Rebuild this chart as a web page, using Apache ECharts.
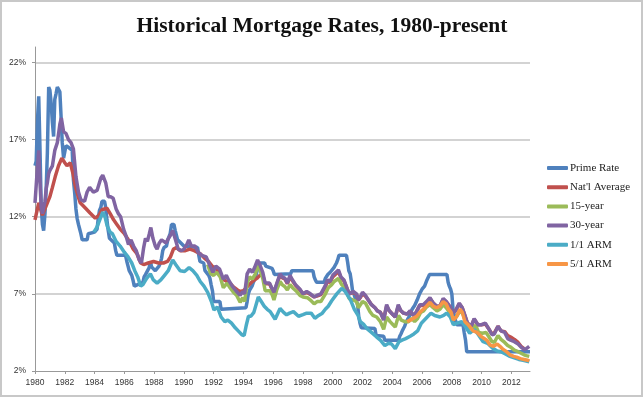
<!DOCTYPE html>
<html>
<head>
<meta charset="utf-8">
<script src="https://cdn.jsdelivr.net/npm/echarts@6/dist/echarts.min.js"></script>
<style>
html,body{margin:0;padding:0;background:#fff;}
#chart{width:644px;height:397px;}
</style>
</head>
<body>
<div id="chart"></div>
<script>
var seriesNames = ['Prime Rate', "Nat'l Average", '15-year', '30-year', '1/1 ARM', '5/1 ARM'];
var seriesColors = ['#4F81BD', '#C0504D', '#9BBB59', '#8064A2', '#4BACC6', '#F79646'];

var primeRate = [
[1980.00,15.3],[1980.08,15.6],[1980.17,18.3],[1980.25,19.8],[1980.33,16.6],[1980.42,12.6],[1980.50,11.5],[1980.58,11.1],[1980.67,12.2],[1980.75,13.8],[1980.83,16.1],[1980.92,20.4],
[1981.00,20.2],[1981.08,19.4],[1981.17,18.1],[1981.25,17.2],[1981.33,19.6],[1981.42,20.0],[1981.50,20.4],[1981.58,20.5],[1981.67,20.1],[1981.75,18.5],[1981.83,16.8],[1981.92,15.8],
[1982.00,15.8],[1982.08,16.6],[1982.25,16.5],[1982.50,16.3],[1982.58,14.4],[1982.67,13.5],[1982.75,12.5],[1982.83,11.9],[1982.92,11.5],
[1983.00,11.2],[1983.08,10.9],[1983.17,10.5],[1983.50,10.5],[1983.58,10.9],[1983.67,11.0],[1984.00,11.0],[1984.17,11.2],[1984.25,11.9],[1984.33,12.4],[1984.42,12.6],[1984.50,13.0],[1984.67,13.0],[1984.75,12.6],[1984.83,11.8],[1984.92,11.1],
[1985.00,10.6],[1985.08,10.5],[1985.33,10.3],[1985.42,9.8],[1985.50,9.5],[1986.08,9.5],[1986.17,9.1],[1986.25,8.8],[1986.33,8.5],[1986.50,8.2],[1986.58,7.9],[1986.67,7.5],
[1987.25,7.75],[1987.33,8.1],[1987.42,8.25],[1987.67,8.7],[1987.75,9.1],[1987.83,8.75],[1988.08,8.5],[1988.33,8.8],[1988.42,9.0],[1988.50,9.3],[1988.58,9.8],[1988.67,10.0],[1988.83,10.1],[1988.92,10.5],
[1989.08,10.9],[1989.17,11.5],[1989.33,11.5],[1989.42,11.1],[1989.50,11.0],[1989.58,10.5],[1990.00,10.1],[1990.08,10.0],[1990.92,10.0],
[1991.00,9.5],[1991.08,9.1],[1991.33,9.0],[1991.42,8.5],[1991.67,8.2],[1991.75,8.0],[1991.83,7.6],[1991.92,7.2],[1992.00,6.5],[1992.42,6.5],[1992.50,6.0],
[1994.17,6.1],[1994.25,6.5],[1994.33,7.0],[1994.42,7.25],[1994.58,7.5],[1994.67,7.75],[1994.83,8.15],[1994.92,8.5],[1995.08,9.0],[1995.42,9.0],[1995.50,8.8],[1995.58,8.75],[1995.92,8.65],
[1996.00,8.5],[1996.08,8.25],[1997.17,8.3],[1997.25,8.5],[1998.67,8.5],[1998.75,8.1],[1998.83,7.9],[1998.92,7.75],[1999.42,7.75],[1999.50,8.0],[1999.67,8.25],[1999.83,8.4],[1999.92,8.5],
[2000.08,8.7],[2000.17,8.8],[2000.25,9.0],[2000.33,9.2],[2000.42,9.5],[2000.92,9.5],[2001.00,9.05],[2001.08,8.5],[2001.17,8.3],[2001.25,7.8],[2001.33,7.2],[2001.42,7.0],[2001.50,6.75],[2001.58,6.6],[2001.67,6.3],[2001.75,5.5],[2001.83,5.1],[2001.92,4.8],
[2002.83,4.75],[2002.92,4.3],[2003.42,4.25],[2003.50,4.0],[2004.42,4.0],[2004.50,4.25],[2004.58,4.4],[2004.67,4.6],[2004.75,4.75],[2004.83,4.9],[2004.92,5.15],
[2005.00,5.25],[2005.17,5.6],[2005.33,6.0],[2005.50,6.25],[2005.67,6.6],[2005.83,7.0],[2006.00,7.3],[2006.17,7.5],[2006.33,7.9],[2006.50,8.25],[2007.67,8.25],[2007.75,7.75],[2007.83,7.5],[2007.92,7.3],
[2008.00,7.0],[2008.08,6.0],[2008.17,5.6],[2008.25,5.25],[2008.33,5.0],[2008.75,5.0],[2008.83,4.5],[2008.92,4.0],[2009.00,3.25],[2013.25,3.25]
];

var natlAverage = [
[1980.00,11.8],[1980.25,12.9],[1980.50,12.1],[1980.58,12.0],[1980.83,12.9],[1981.00,13.3],[1981.17,13.9],[1981.36,14.6],[1981.58,15.3],[1981.80,15.8],
[1982.00,15.5],[1982.15,15.3],[1982.37,15.5],[1982.55,14.8],[1982.70,14.0],[1982.90,13.3],[1983.04,12.9],[1983.38,12.56],[1983.70,12.24],
[1984.05,11.9],[1984.30,12.1],[1984.50,12.45],[1984.83,12.56],[1985.05,12.2],[1985.28,11.8],[1985.50,11.5],[1985.72,11.2],[1986.00,10.9],[1986.28,10.5],[1986.60,9.9],[1986.85,9.6],
[1987.10,9.0],[1987.30,8.9],[1987.60,9.0],[1987.96,9.1],[1988.30,9.0],[1988.63,9.0],[1988.90,9.1],[1989.10,9.4],[1989.30,9.9],[1989.50,10.0],[1989.75,9.8],
[1990.10,9.8],[1990.40,9.9],[1990.70,9.8],[1991.10,9.6],[1991.40,9.3],[1991.65,9.1],[1991.90,8.8],[1992.20,8.6],[1992.44,8.2],[1992.70,7.9],[1992.90,7.8],
[1993.10,7.7],[1993.33,7.45],[1993.60,7.25],[1993.78,7.15],[1994.00,7.2],[1994.30,7.5],[1994.60,7.8],[1994.90,8.0],[1995.10,8.2],
[1995.30,8.2],[1995.46,7.65],[1995.60,7.65],[1995.75,7.65],[1995.90,7.35],[1996.05,7.05],[1996.25,7.65],[1996.46,8.2],[1996.60,8.05],[1996.80,7.95],[1996.95,7.65],
[1997.13,8.1],[1997.30,7.85],[1997.50,7.55],[1997.80,7.25],[1998.00,7.0],[1998.25,7.1],[1998.50,6.95],[1998.75,6.8],[1998.93,6.85],[1999.20,6.95],[1999.48,7.4],[1999.65,7.8],[1999.82,7.75],
[2000.00,8.1],[2000.38,8.45],[2000.55,8.05],[2000.75,7.85],[2000.94,7.4],[2001.10,7.0],[2001.38,7.1],[2001.60,6.95],[2001.72,6.6],[2001.85,6.75],
[2002.00,7.0],[2002.20,6.85],[2002.39,6.6],[2002.60,6.3],[2002.84,6.1],[2003.00,5.9],[2003.20,5.8],[2003.42,5.35],[2003.62,6.2],[2003.80,5.9],
[2004.00,5.7],[2004.20,5.5],[2004.40,6.2],[2004.58,5.9],[2004.75,5.75],[2005.00,5.7],[2005.20,5.85],[2005.42,5.6],[2005.60,5.8],[2005.85,6.25],
[2006.08,6.25],[2006.30,6.45],[2006.53,6.7],[2006.75,6.4],[2006.98,6.2],[2007.20,6.2],[2007.42,6.65],[2007.62,6.5],[2007.85,6.2],
[2008.05,5.8],[2008.25,5.9],[2008.50,6.35],[2008.70,6.1],[2008.88,5.6],[2009.05,5.1],[2009.30,4.9],[2009.50,5.35],[2009.75,5.0],
[2010.00,5.0],[2010.25,5.05],[2010.50,4.7],[2010.70,4.4],[2010.85,4.45],[2011.10,4.9],[2011.30,4.6],[2011.55,4.55],[2011.75,4.3],[2011.95,4.2],
[2012.20,4.05],[2012.45,3.85],[2012.65,3.6],[2012.85,3.45]
];

var fifteenYear = [
[1991.60,8.9],[1991.80,8.3],[1992.00,8.2],[1992.20,8.4],[1992.44,8.1],[1992.65,7.4],[1992.90,7.7],[1993.10,7.4],[1993.33,7.1],[1993.55,6.9],[1993.78,6.45],[1993.95,6.75],
[1994.08,6.5],[1994.25,7.7],[1994.42,8.1],[1994.60,7.95],[1994.80,8.3],[1994.95,8.8],[1995.10,8.6],[1995.30,8.0],[1995.46,7.2],[1995.60,7.2],[1995.80,7.2],[1995.95,6.9],
[1996.05,6.6],[1996.25,7.3],[1996.46,7.8],[1996.60,7.6],[1996.80,7.45],[1996.95,7.25],[1997.13,7.6],[1997.30,7.4],[1997.58,7.15],[1997.80,6.9],
[1998.00,6.8],[1998.30,6.75],[1998.50,6.6],[1998.75,6.35],[1998.95,6.5],[1999.20,6.5],[1999.48,6.95],[1999.70,7.4],[1999.93,7.6],
[2000.10,7.8],[2000.38,8.0],[2000.60,7.6],[2000.80,7.4],[2000.94,7.1],[2001.10,6.7],[2001.38,6.6],[2001.60,6.5],[2001.72,6.1],[2001.85,6.2],
[2002.00,6.5],[2002.20,6.4],[2002.50,5.85],[2002.70,5.6],[2002.95,5.5],[2003.20,5.2],[2003.42,4.7],[2003.62,5.5],[2003.85,5.2],
[2004.05,5.0],[2004.20,4.85],[2004.42,5.6],[2004.60,5.3],[2004.85,5.2],[2005.10,5.2],[2005.30,5.4],[2005.50,5.2],[2005.70,5.4],[2005.90,5.8],
[2006.10,5.9],[2006.30,6.15],[2006.53,6.3],[2006.75,6.1],[2007.00,5.9],[2007.20,6.0],[2007.42,6.3],[2007.62,6.1],[2007.85,5.8],
[2008.05,5.3],[2008.30,5.5],[2008.55,5.9],[2008.75,5.7],[2008.95,5.1],[2009.15,4.75],[2009.40,4.8],[2009.60,4.95],[2009.80,4.5],
[2010.05,4.45],[2010.30,4.5],[2010.50,4.2],[2010.70,3.9],[2010.85,3.85],[2011.10,4.3],[2011.30,4.05],[2011.55,3.85],[2011.75,3.65],[2011.95,3.55],
[2012.20,3.35],[2012.45,3.25],[2012.65,3.15],[2012.85,3.05],[2013.00,3.0],[2013.20,2.95]
];

var thirtyYear = [
[1980.00,12.9],[1980.08,13.0],[1980.17,15.3],[1980.25,16.3],[1980.33,14.3],[1980.42,12.6],[1980.50,12.2],[1980.58,12.3],[1980.67,13.0],[1980.75,13.8],[1980.83,14.2],[1980.92,14.8],
[1981.00,15.0],[1981.17,15.3],[1981.33,16.3],[1981.50,16.8],[1981.67,18.0],[1981.77,18.4],[1981.92,17.5],[1982.08,17.4],[1982.25,17.0],[1982.42,16.8],[1982.58,16.4],[1982.75,14.6],[1982.92,13.6],
[1983.08,13.1],[1983.33,13.0],[1983.50,13.6],[1983.67,13.9],[1983.92,13.6],[1984.17,13.7],[1984.42,14.5],[1984.55,14.7],[1984.75,14.2],[1984.92,13.3],
[1985.08,13.3],[1985.25,13.2],[1985.45,12.5],[1985.60,12.2],[1985.75,12.0],[1985.95,11.2],[1986.10,10.8],[1986.28,10.2],[1986.45,10.5],[1986.62,10.1],[1986.80,9.8],
[1987.00,9.2],[1987.15,9.0],[1987.30,10.0],[1987.42,10.6],[1987.55,10.4],[1987.68,10.9],[1987.78,11.3],[1987.92,10.6],[1988.08,10.1],[1988.20,9.9],[1988.35,10.3],[1988.50,10.5],[1988.65,10.4],[1988.80,10.3],[1988.97,10.6],
[1989.10,10.8],[1989.25,11.1],[1989.35,11.0],[1989.50,10.3],[1989.62,9.9],[1989.85,9.8],[1990.00,9.9],[1990.20,10.2],[1990.33,10.5],[1990.50,10.1],[1990.75,10.1],[1990.95,9.7],
[1991.20,9.5],[1991.50,9.4],[1991.76,8.8],[1991.95,8.4],[1992.15,8.8],[1992.40,8.6],[1992.65,7.95],[1992.85,8.2],[1993.00,7.9],[1993.25,7.5],[1993.50,7.2],[1993.78,6.9],[1993.95,7.15],
[1994.08,7.0],[1994.25,8.3],[1994.42,8.6],[1994.60,8.4],[1994.75,8.7],[1994.95,9.2],[1995.10,8.9],[1995.30,8.4],[1995.46,7.7],[1995.60,7.7],[1995.75,7.7],[1995.90,7.4],
[1996.05,7.1],[1996.25,7.7],[1996.46,8.3],[1996.60,8.1],[1996.80,8.0],[1996.95,7.7],[1997.13,8.2],[1997.30,7.9],[1997.50,7.6],[1997.80,7.3],
[1998.00,7.0],[1998.25,7.15],[1998.50,7.0],[1998.75,6.8],[1998.93,6.9],[1999.20,7.0],[1999.48,7.5],[1999.65,7.9],[1999.82,7.8],
[2000.00,8.2],[2000.38,8.55],[2000.55,8.1],[2000.75,7.9],[2000.94,7.4],[2001.10,7.0],[2001.38,7.15],[2001.60,7.0],[2001.72,6.6],[2001.85,6.8],
[2002.00,7.1],[2002.20,6.9],[2002.39,6.6],[2002.60,6.3],[2002.84,6.1],[2003.00,5.9],[2003.20,5.8],[2003.42,5.3],[2003.62,6.3],[2003.80,5.9],
[2004.00,5.7],[2004.20,5.5],[2004.40,6.3],[2004.58,5.9],[2004.75,5.75],[2005.00,5.7],[2005.20,5.9],[2005.42,5.6],[2005.60,5.8],[2005.85,6.3],
[2006.08,6.3],[2006.30,6.5],[2006.53,6.75],[2006.75,6.4],[2006.98,6.2],[2007.20,6.2],[2007.42,6.7],[2007.62,6.5],[2007.85,6.2],
[2008.05,5.8],[2008.25,5.9],[2008.50,6.4],[2008.70,6.1],[2008.88,5.6],[2009.05,5.1],[2009.30,4.9],[2009.50,5.4],[2009.75,5.0],
[2010.00,5.0],[2010.25,5.1],[2010.50,4.7],[2010.70,4.35],[2010.85,4.4],[2011.10,4.9],[2011.30,4.6],[2011.55,4.5],[2011.75,4.1],[2011.95,4.0],
[2012.20,3.9],[2012.45,3.75],[2012.65,3.55],[2012.85,3.4],[2013.00,3.45],[2013.20,3.6]
];

var oneOneArm = [
[1983.95,11.0],[1984.15,11.3],[1984.35,11.8],[1984.55,12.3],[1984.70,12.0],[1984.85,11.4],[1985.05,11.0],[1985.20,10.9],[1985.45,10.4],[1985.72,10.1],
[1986.00,9.7],[1986.25,9.4],[1986.50,9.0],[1986.70,8.5],[1986.90,8.1],[1987.10,7.5],[1987.25,7.6],[1987.50,8.0],[1987.75,8.3],[1987.95,7.9],
[1988.20,7.7],[1988.45,7.9],[1988.70,8.2],[1988.95,8.5],[1989.25,9.2],[1989.45,8.9],[1989.75,8.5],[1990.05,8.45],[1990.35,8.7],[1990.60,8.5],[1990.87,8.2],
[1991.10,7.8],[1991.35,7.5],[1991.60,7.1],[1991.85,6.5],[1992.02,5.95],[1992.25,6.15],[1992.50,5.5],[1992.75,5.2],[1992.95,5.3],
[1993.20,5.1],[1993.45,4.8],[1993.65,4.6],[1993.90,4.35],[1994.05,4.3],[1994.20,5.0],[1994.34,5.55],[1994.50,5.55],[1994.70,5.8],[1995.00,6.8],
[1995.20,6.5],[1995.40,6.2],[1995.60,6.0],[1995.80,5.85],[1996.13,5.35],[1996.46,6.05],[1996.70,5.8],[1996.90,5.64],[1997.10,5.75],[1997.36,5.85],[1997.70,5.55],
[1998.00,5.65],[1998.25,5.75],[1998.55,5.75],[1998.80,5.42],[1999.05,5.6],[1999.30,5.75],[1999.50,6.0],[1999.70,6.2],[1999.93,6.55],
[2000.27,7.0],[2000.60,7.35],[2000.80,7.2],[2001.00,6.9],[2001.20,6.6],[2001.45,6.0],[2001.70,5.6],[2001.85,5.2],
[2002.10,5.0],[2002.30,4.75],[2002.60,4.5],[2002.95,4.2],[2003.20,4.0],[2003.50,3.65],[2003.75,3.8],[2003.95,3.75],
[2004.20,3.45],[2004.45,3.9],[2004.65,4.0],[2004.90,4.1],[2005.20,4.25],[2005.45,4.4],[2005.70,4.6],[2005.95,5.1],
[2006.30,5.45],[2006.60,5.75],[2006.85,5.6],[2007.20,5.5],[2007.45,5.6],[2007.65,5.75],[2007.90,5.5],
[2008.10,5.0],[2008.35,5.1],[2008.66,5.2],[2008.90,4.9],[2009.20,4.45],[2009.50,4.7],[2009.75,4.4],
[2010.10,3.9],[2010.40,3.8],[2010.78,3.45],[2011.05,3.3],[2011.30,3.25],[2011.60,3.1],[2011.90,2.95],
[2012.20,2.85],[2012.50,2.75],[2012.79,2.7],[2013.00,2.65],[2013.20,2.6]
];

var fiveOneArm = [
[2005.00,5.2],[2005.20,5.3],[2005.40,5.4],[2005.64,5.55],[2005.85,5.8],[2006.08,6.0],[2006.30,6.2],[2006.53,6.45],[2006.75,6.2],[2006.98,6.1],
[2007.20,6.2],[2007.42,6.5],[2007.62,6.35],[2007.76,6.05],[2007.95,5.8],[2008.10,5.3],[2008.30,5.5],[2008.55,6.0],[2008.70,5.8],[2008.88,5.2],
[2009.10,5.0],[2009.43,4.6],[2009.70,4.5],[2009.90,4.3],[2010.10,4.15],[2010.35,4.0],[2010.55,3.7],[2010.80,3.6],
[2011.05,3.75],[2011.23,3.6],[2011.45,3.4],[2011.68,3.25],[2011.90,3.05],[2012.15,2.95],[2012.35,2.9],[2012.60,2.8],[2012.85,2.75],[2013.10,2.7],[2013.20,2.65]
];

var seriesData = [primeRate, natlAverage, fifteenYear, thirtyYear, oneOneArm, fiveOneArm];

var chart = echarts.init(document.getElementById('chart'), null, {renderer: 'canvas'});
var series = seriesNames.map(function (name, i) {
  return {
    name: name,
    type: 'line',
    data: seriesData[i],
    showSymbol: false,
    symbol: 'none',
    smooth: false,
    lineStyle: {width: 3.5, color: seriesColors[i]},
    itemStyle: {color: seriesColors[i]},
    emphasis: {disabled: true},
    animation: false
  };
});

chart.setOption({
  animation: false,
  backgroundColor: '#ffffff',
  title: {
    text: 'Historical Mortgage Rates, 1980-present',
    left: 'center',
    top: 10,
    textStyle: {fontFamily: 'Liberation Serif', fontWeight: 'bold', fontSize: 21.5, color: '#111'}
  },
  legend: {
    orient: 'vertical',
    left: 547,
    top: 161,
    padding: 0,
    icon: 'roundRect',
    itemWidth: 21,
    itemHeight: 4,
    itemGap: 5.2,
    textStyle: {fontFamily: 'Liberation Serif', fontSize: 11, color: '#222', lineHeight: 14, padding: [0, 0, 0, -3]},
    data: seriesNames
  },
  grid: {left: 35, right: 114, top: 47, bottom: 26, containLabel: false},
  xAxis: {
    type: 'value',
    min: 1980,
    max: 2013.25,
    interval: 2,
    axisLine: {show: true, lineStyle: {color: '#999', width: 1}},
    axisTick: {show: true, length: 3, lineStyle: {color: '#999'}},
    splitLine: {show: false},
    axisLabel: {
      showMaxLabel: false,
      margin: 7,
      fontFamily: 'Liberation Sans',
      fontSize: 8.5,
      color: '#333',
      formatter: function (v) { return String(v); }
    }
  },
  yAxis: {
    type: 'value',
    min: 2,
    max: 23,
    interval: 5,
    axisLine: {show: true, lineStyle: {color: '#999', width: 1}},
    axisTick: {show: true, length: 3, lineStyle: {color: '#999'}},
    splitLine: {show: true, showMinLine: false, showMaxLine: false, lineStyle: {color: '#c4c4c4', width: 1.5}},
    axisLabel: {
      showMaxLabel: false,
      margin: 9,
      fontFamily: 'Liberation Sans',
      fontSize: 8.5,
      color: '#333',
      formatter: '{value}%'
    }
  },
  graphic: [{
    type: 'rect',
    shape: {x: 1, y: 1, width: 641, height: 395},
    style: {fill: 'none', stroke: '#c8c8c8', lineWidth: 2},
    silent: true,
    z: 100
  }],
  series: series
});
</script>
</body>
</html>
